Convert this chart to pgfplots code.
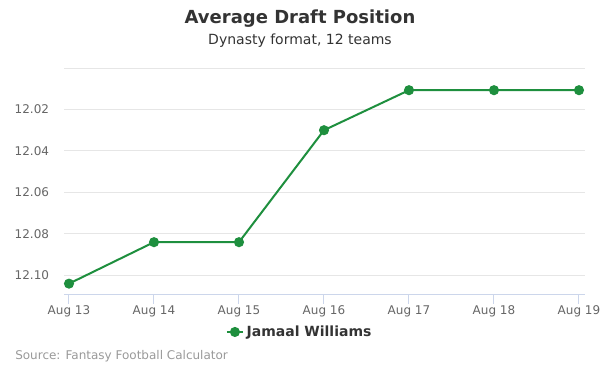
\documentclass[border=0pt]{standalone}
\usepackage{pgfplots}
\pgfplotsset{compat=1.18}
\usepackage{fontspec}
\setmainfont{DejaVu Sans}
\definecolor{ser}{HTML}{1E8F3E}
\definecolor{tt}{HTML}{333333}
\definecolor{tl}{HTML}{666666}
\definecolor{gr}{HTML}{E6E6E6}
\definecolor{ax}{HTML}{CCD6EB}
\definecolor{src}{HTML}{999999}
\begin{document}
\begin{tikzpicture}
\useasboundingbox (0,0) rectangle (450pt,-281.25pt);
\begin{axis}[
  at={(48pt,-220.5pt)}, anchor=south west,
  scale only axis, width=390.75pt, height=169.5pt,
  xmin=-0.0588, xmax=6.0706,
  ymin=12.0, ymax=12.109, y dir=reverse,
  xtick={0,1,2,3,4,5,6},
  xticklabels={Aug 13,Aug 14,Aug 15,Aug 16,Aug 17,Aug 18,Aug 19},
  ytick={12.00,12.02,12.04,12.06,12.08,12.10},
  yticklabels={,12.02,12.04,12.06,12.08,12.10},
  axis line style={draw=none},
  xtick pos=bottom, ytick pos=left,
  tick align=outside,
  major tick length=7.5pt,
  xtick style={draw=ax, line width=0.75pt},
  ytick style={draw=none},
  ymajorgrids, grid style={draw=gr, line width=0.75pt},
  tick label style={font=\fontsize{9pt}{11pt}\selectfont, text=tl, inner sep=0pt},
  yticklabel style={anchor=east, xshift=-3.5pt},
  xticklabel style={anchor=north, yshift=-1pt},
  legend style={at={(axis description cs:0.453,-0.168)}, anchor=center, draw=none, fill=none,
    font=\fontsize{10.5pt}{12pt}\selectfont\bfseries, text=tt, inner sep=0pt},
  legend image code/.code={
    \draw[ser, line width=1.5pt] (-2pt,0pt) -- (10pt,0pt);
    \fill[ser] (4pt,0pt) circle (3pt);
  },
  clip=false,
]
\addplot[ser, line width=1.5pt, mark=*, mark size=3pt, mark options={fill=ser, draw=none}]
  coordinates {(0,12.104) (1,12.084) (2,12.084) (3,12.030) (4,12.0107) (5,12.0107) (6,12.0107)};
\addlegendentry{Jamaal Williams}
\draw[ax, line width=0.75pt] (rel axis cs:0,0) -- (rel axis cs:1,0);
\end{axis}
\node[text=tt, font=\fontsize{13.5pt}{16pt}\selectfont\bfseries] at (225pt,-14.25pt) {Average Draft Position};
\node[text=tt, font=\fontsize{10.5pt}{12pt}\selectfont] at (225pt,-30.75pt) {Dynasty format, 12 teams};
\node[text=src, font=\fontsize{9pt}{11pt}\selectfont, anchor=west, inner sep=0pt] at (11.25pt,-267pt) {Source: Fantasy Football Calculator};
\end{tikzpicture}
\end{document}
